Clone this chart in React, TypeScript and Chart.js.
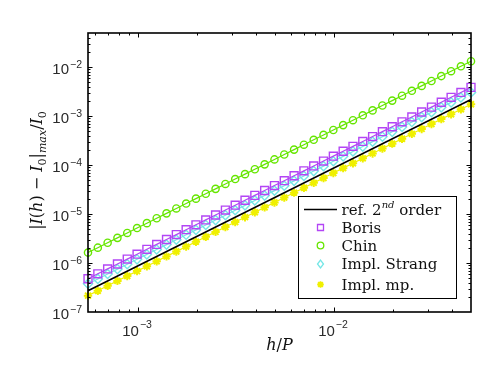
import { useEffect, useRef } from "react";
import { Chart, registerables } from "chart.js";

Chart.register(...registerables);

// step size h/P (log-spaced)
const hOverP = [
  5.556e-4, 6.235e-4, 6.997e-4, 7.852e-4, 8.811e-4, 9.888e-4, 1.1096e-3, 1.2452e-3,
  1.3974e-3, 1.5682e-3, 1.7598e-3, 1.9749e-3, 2.2162e-3, 2.4871e-3, 2.791e-3, 3.1321e-3,
  3.5148e-3, 3.9444e-3, 4.4264e-3, 4.9673e-3, 5.5743e-3, 6.2555e-3, 7.02e-3, 7.8779e-3,
  8.8406e-3, 9.9209e-3, 1.1133e-2, 1.2494e-2, 1.4021e-2, 1.5734e-2, 1.7657e-2, 1.9815e-2,
  2.2236e-2, 2.4953e-2, 2.8003e-2, 3.1425e-2, 3.5265e-2, 3.9575e-2, 4.4411e-2, 5.0e-2,
];

const refX = [5.556e-4, 5.0e-2];
const refY = [2.72e-7, 2.2e-3];

const boris = [
  4.78e-7, 6.03e-7, 7.59e-7, 9.56e-7, 1.203e-6, 1.515e-6, 1.908e-6, 2.403e-6,
  3.027e-6, 3.812e-6, 4.8e-6, 6.045e-6, 7.613e-6, 9.588e-6, 1.207e-5, 1.521e-5,
  1.915e-5, 2.411e-5, 3.037e-5, 3.824e-5, 4.816e-5, 6.065e-5, 7.638e-5, 9.619e-5,
  1.211e-4, 1.526e-4, 1.921e-4, 2.42e-4, 3.047e-4, 3.837e-4, 4.832e-4, 6.086e-4,
  7.664e-4, 9.651e-4, 1.215e-3, 1.531e-3, 1.928e-3, 2.428e-3, 3.057e-3, 3.875e-3,
];

const chin = [
  1.636e-6, 2.061e-6, 2.595e-6, 3.267e-6, 4.115e-6, 5.182e-6, 6.525e-6, 8.218e-6,
  1.035e-5, 1.303e-5, 1.641e-5, 2.067e-5, 2.603e-5, 3.278e-5, 4.129e-5, 5.199e-5,
  6.548e-5, 8.246e-5, 1.038e-4, 1.308e-4, 1.647e-4, 2.074e-4, 2.612e-4, 3.289e-4,
  4.142e-4, 5.216e-4, 6.569e-4, 8.273e-4, 1.042e-3, 1.312e-3, 1.652e-3, 2.081e-3,
  2.621e-3, 3.3e-3, 4.156e-3, 5.234e-3, 6.591e-3, 8.301e-3, 1.045e-2, 1.325e-2,
];

const implStrang = [
  3.77e-7, 4.74e-7, 5.97e-7, 7.52e-7, 9.47e-7, 1.193e-6, 1.502e-6, 1.892e-6,
  2.382e-6, 3.0e-6, 3.778e-6, 4.758e-6, 5.992e-6, 7.547e-6, 9.503e-6, 1.197e-5,
  1.507e-5, 1.898e-5, 2.39e-5, 3.01e-5, 3.791e-5, 4.774e-5, 6.012e-5, 7.571e-5,
  9.535e-5, 1.201e-4, 1.512e-4, 1.904e-4, 2.398e-4, 3.02e-4, 3.804e-4, 4.79e-4,
  6.032e-4, 7.596e-4, 9.567e-4, 1.205e-3, 1.517e-3, 1.911e-3, 2.406e-3, 3.05e-3,
];

const implMp = [
  2.16e-7, 2.72e-7, 3.43e-7, 4.32e-7, 5.43e-7, 6.84e-7, 8.62e-7, 1.085e-6,
  1.367e-6, 1.722e-6, 2.168e-6, 2.73e-6, 3.438e-6, 4.33e-6, 5.453e-6, 6.867e-6,
  8.648e-6, 1.089e-5, 1.372e-5, 1.727e-5, 2.175e-5, 2.739e-5, 3.45e-5, 4.344e-5,
  5.471e-5, 6.89e-5, 8.676e-5, 1.093e-4, 1.376e-4, 1.733e-4, 2.182e-4, 2.748e-4,
  3.461e-4, 4.359e-4, 5.489e-4, 6.913e-4, 8.705e-4, 1.096e-3, 1.381e-3, 1.75e-3,
];

const seriesLabels = ["ref. 2nd order", "Boris", "Chin", "Impl. Strang", "Impl. mp."];
const xTickExps = [-3, -2];
const yTickExps = [-7, -6, -5, -4, -3, -2];
const X_MIN = 5.556e-4;
const X_MAX = 5.0e-2;
const Y_MIN = 1e-7;
const Y_MAX = 5.0e-2;

const COL_REF = "#000000";
const COL_BORIS = "#b345f5";
const COL_CHIN = "#66e600";
const COL_STRANG = "#74e6e6";
const COL_MP = "#f0f000";

const MINUS = "\u2212";

function drawMarker(ctx: CanvasRenderingContext2D, style: string, x: number, y: number, r: number, color: string) {
  ctx.save();
  ctx.strokeStyle = color;
  ctx.lineWidth = 1.3;
  ctx.beginPath();
  if (style === "rect") {
    ctx.rect(x - r, y - r, 2 * r, 2 * r);
  } else if (style === "circle") {
    ctx.arc(x, y, r, 0, Math.PI * 2);
  } else if (style === "rectRot") {
    ctx.moveTo(x, y - r * 1.3);
    ctx.lineTo(x + r, y);
    ctx.lineTo(x, y + r * 1.3);
    ctx.lineTo(x - r, y);
    ctx.closePath();
  } else if (style === "star") {
    ctx.lineWidth = 1.8;
    for (let k = 0; k < 4; k++) {
      const a = (k * Math.PI) / 4;
      ctx.moveTo(x - Math.cos(a) * r, y - Math.sin(a) * r);
      ctx.lineTo(x + Math.cos(a) * r, y + Math.sin(a) * r);
    }
  }
  ctx.stroke();
  ctx.restore();
}

type Seg = { t: string; italic?: boolean; sub?: boolean; sup?: boolean };

function segFont(s: Seg, base: number) {
  const size = s.sub || s.sup ? Math.round(base * 0.68) : base;
  return `${s.italic ? "italic " : ""}${size}px "DejaVu Serif"`;
}

function drawSegs(ctx: CanvasRenderingContext2D, segs: Seg[], x: number, y: number, base: number, align: "left" | "center") {
  let total = 0;
  for (const s of segs) {
    ctx.font = segFont(s, base);
    total += ctx.measureText(s.t).width;
  }
  let cx = align === "center" ? x - total / 2 : x;
  ctx.textAlign = "left";
  ctx.textBaseline = "alphabetic";
  for (const s of segs) {
    ctx.font = segFont(s, base);
    const dy = s.sub ? base * 0.28 : s.sup ? -base * 0.42 : 0;
    ctx.fillText(s.t, cx, y + dy);
    cx += ctx.measureText(s.t).width;
  }
}

const framePlugin = {
  id: "frame",
  afterDatasetsDraw(chart: any) {
    const { ctx, chartArea: a, scales } = chart;
    const xs = scales.x;
    const ys = scales.y;
    ctx.save();
    ctx.strokeStyle = "#000";
    ctx.lineWidth = 1;
    for (let e = -8; e <= 0; e++) {
      for (let m = 1; m <= 9; m++) {
        const v = m * Math.pow(10, e);
        const len = m === 1 ? 4.5 : 2.5;
        if (v > X_MIN * 1.0001 && v < X_MAX * 0.9999) {
          const px = Math.round(xs.getPixelForValue(v)) + 0.5;
          ctx.beginPath();
          ctx.moveTo(px, a.bottom);
          ctx.lineTo(px, a.bottom - len);
          ctx.moveTo(px, a.top);
          ctx.lineTo(px, a.top + len);
          ctx.stroke();
        }
        if (v > Y_MIN * 1.0001 && v < Y_MAX * 0.9999) {
          const py = Math.round(ys.getPixelForValue(v)) + 0.5;
          ctx.beginPath();
          ctx.moveTo(a.left, py);
          ctx.lineTo(a.left + len, py);
          ctx.moveTo(a.right, py);
          ctx.lineTo(a.right - len, py);
          ctx.stroke();
        }
      }
    }
    ctx.lineWidth = 1.6;
    ctx.strokeRect(a.left, a.top, a.right - a.left, a.bottom - a.top);

    ctx.fillStyle = "#2a2a2a";
    ctx.textBaseline = "alphabetic";
    for (const e of yTickExps) {
      const py = ys.getPixelForValue(Math.pow(10, e));
      ctx.font = '10.5px "Liberation Sans"';
      const expT = MINUS + String(-e);
      const ew = ctx.measureText(expT).width;
      ctx.textAlign = "left";
      const right = a.left - 6;
      ctx.fillText(expT, right - ew, py + 1);
      ctx.font = '15px "Liberation Sans"';
      const bw = ctx.measureText("10").width;
      ctx.fillText("10", right - ew - bw - 1, py + 6.5);
    }
    for (const e of xTickExps) {
      const px = xs.getPixelForValue(Math.pow(10, e));
      ctx.font = '15px "Liberation Sans"';
      const bw = ctx.measureText("10").width;
      ctx.font = '10.5px "Liberation Sans"';
      const expT = MINUS + String(-e);
      const ew = ctx.measureText(expT).width;
      const left = px - (bw + ew + 1) / 2 - 1;
      ctx.textAlign = "left";
      ctx.font = '15px "Liberation Sans"';
      ctx.fillText("10", left, a.bottom + 24);
      ctx.font = '10.5px "Liberation Sans"';
      ctx.fillText(expT, left + bw + 1, a.bottom + 16);
    }

    ctx.fillStyle = "#111";
    drawSegs(
      ctx,
      [{ t: "h", italic: true }, { t: "/" }, { t: "P", italic: true }],
      (a.left + a.right) / 2,
      a.bottom + 38,
      16,
      "center"
    );
    ctx.save();
    ctx.translate(42, (a.top + a.bottom) / 2 - 2);
    ctx.rotate(-Math.PI / 2);
    drawSegs(
      ctx,
      [
        { t: "|" },
        { t: "I", italic: true },
        { t: "(" },
        { t: "h", italic: true },
        { t: ") " + MINUS + " " },
        { t: "I", italic: true },
        { t: "0", sub: true },
        { t: "|" },
        { t: "max", italic: true, sub: true },
        { t: "/" },
        { t: "I", italic: true },
        { t: "0", sub: true },
      ],
      0,
      0,
      16,
      "center"
    );
    ctx.restore();
    ctx.restore();
  },
  afterDraw(chart: any) {
    const { ctx } = chart;
    const bx = 298.5, by = 196.5, bw = 158, bh = 102;
    ctx.save();
    ctx.fillStyle = "#fff";
    ctx.fillRect(bx, by, bw, bh);
    ctx.strokeStyle = "#000";
    ctx.lineWidth = 1;
    ctx.strokeRect(bx, by, bw, bh);
    const rows = [209.5, 227.5, 245.5, 264, 284.5];
    const tx = 341.5;
    const mx = 320.5;
    ctx.strokeStyle = COL_REF;
    ctx.lineWidth = 1.6;
    ctx.beginPath();
    ctx.moveTo(304, rows[0]);
    ctx.lineTo(337, rows[0]);
    ctx.stroke();
    drawMarker(ctx, "rect", mx, rows[1], 3, COL_BORIS);
    drawMarker(ctx, "circle", mx, rows[2], 3.3, COL_CHIN);
    drawMarker(ctx, "rectRot", mx, rows[3], 3, COL_STRANG);
    drawMarker(ctx, "star", mx, rows[4], 3.3, COL_MP);
    ctx.fillStyle = "#111";
    const base = 15;
    drawSegs(
      ctx,
      [{ t: "ref. 2" }, { t: "nd", italic: true, sup: true }, { t: " order" }],
      tx,
      rows[0] + 5,
      base,
      "left"
    );
    for (let i = 1; i < seriesLabels.length; i++) {
      drawSegs(ctx, [{ t: seriesLabels[i] }], tx, rows[i] + 5, base, "left");
    }
    ctx.restore();
  },
};

export default function App() {
  const ref = useRef<HTMLCanvasElement | null>(null);
  useEffect(() => {
    if (!ref.current) return;
    const pts = (ys: number[]) => hOverP.map((x, i) => ({ x, y: ys[i] }));
    const chart = new Chart(ref.current, {
      type: "scatter",
      data: {
        datasets: [
          {
            label: seriesLabels[0],
            data: refX.map((x, i) => ({ x, y: refY[i] })),
            showLine: true,
            borderColor: COL_REF,
            borderWidth: 1.6,
            pointRadius: 0,
            clip: false,
          },
          {
            label: seriesLabels[1],
            data: pts(boris),
            showLine: true,
            borderColor: COL_BORIS,
            borderWidth: 1.2,
            pointStyle: "rect",
            pointRadius: 5.6,
            pointBorderWidth: 1.4,
            pointBackgroundColor: "rgba(0,0,0,0)",
            pointBorderColor: COL_BORIS,
            clip: false,
          },
          {
            label: seriesLabels[2],
            data: pts(chin),
            showLine: true,
            borderColor: COL_CHIN,
            borderWidth: 1.2,
            pointStyle: "circle",
            pointRadius: 3.6,
            pointBorderWidth: 1.4,
            pointBackgroundColor: "rgba(0,0,0,0)",
            pointBorderColor: COL_CHIN,
            clip: false,
          },
          {
            label: seriesLabels[3],
            data: pts(implStrang),
            showLine: true,
            borderColor: COL_STRANG,
            borderWidth: 1.2,
            pointStyle: "rectRot",
            pointRadius: 4.6,
            pointBorderWidth: 1.4,
            pointBackgroundColor: "rgba(0,0,0,0)",
            pointBorderColor: COL_STRANG,
            clip: false,
          },
          {
            label: seriesLabels[4],
            data: pts(implMp),
            showLine: true,
            borderColor: COL_MP,
            borderWidth: 1.2,
            pointStyle: "star",
            pointRadius: 4.2,
            pointBorderWidth: 2,
            pointBackgroundColor: COL_MP,
            pointBorderColor: COL_MP,
            clip: false,
          },
        ],
      },
      options: {
        animation: false,
        responsive: false,
        events: [],
        layout: { padding: { top: 33, right: 20, left: 0, bottom: 0 } },
        plugins: { legend: { display: false }, tooltip: { enabled: false } },
        scales: {
          x: {
            type: "logarithmic",
            min: X_MIN,
            max: X_MAX,
            grid: { display: false },
            border: { display: false },
            ticks: { display: false },
            afterFit: (s: any) => {
              s.height = 57;
            },
          },
          y: {
            type: "logarithmic",
            min: Y_MIN,
            max: Y_MAX,
            grid: { display: false },
            border: { display: false },
            ticks: { display: false },
            afterFit: (s: any) => {
              s.width = 88;
            },
          },
        },
      },
      plugins: [framePlugin],
    });
    return () => chart.destroy();
  }, []);
  return (
    <div style={{ position: "fixed", left: 0, top: 0, width: 491, height: 369, background: "#fff" }}>
      <canvas ref={ref} width={491} height={369} style={{ display: "block", width: 491, height: 369 }} />
    </div>
  );
}
